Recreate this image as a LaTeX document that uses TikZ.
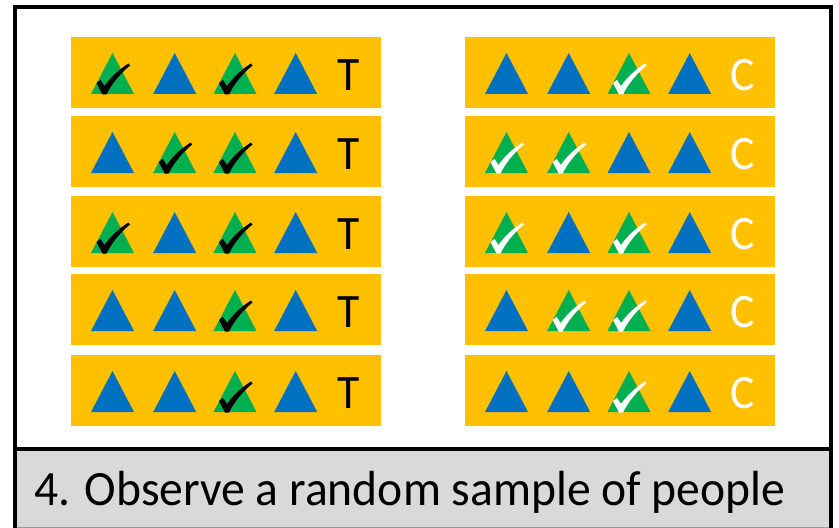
\documentclass[tikz,border=0pt]{standalone}
\usepackage{fontspec}
\usepackage{graphicx}
\setmainfont{Carlito}
\definecolor{rowor}{HTML}{FFC000}
\definecolor{triblue}{HTML}{0070C0}
\definecolor{trigreen}{HTML}{00B050}
\definecolor{capgrey}{HTML}{D9D9D9}
\tikzset{
  rowbox/.style={fill=rowor, draw=none},
  frameline/.style={line width=3pt, black},
  pics/tri/.style={code={\fill[#1] (-21.5,0) -- (21.5,0) -- (0,-41) -- cycle;}},
  pics/chk/.style={code={\fill[#1] (-16,-11) -- (-12,-14) -- (-8,-8)
      .. controls (-1,-18) and (8,-25.5) .. (16,-30.5) -- (17.5,-28.5)
      .. controls (7,-20) and (-1.5,-9) .. (-6,0.5) -- (-10,0.5) -- cycle;}},
  lbl/.style={font=\fontsize{36}{36}\selectfont, anchor=base, inner sep=0pt}
}
\newcommand{\tri}[3]{% x, basey, type (0 blue,1 green black check,2 green white check)
  \ifnum#3=0 \pic at (#1,#2) {tri=triblue};\fi
  \ifnum#3=1 \pic at (#1,#2) {tri=trigreen}; \pic at (#1,#2) {chk=black};\fi
  \ifnum#3=2 \pic at (#1,#2) {tri=trigreen}; \pic at (#1,#2) {chk=white};\fi
}
\newcommand{\myrow}[8]{% left x, top y, t1..t4, letter, colour
  \fill[rowor] (#1,#2) rectangle ++(310,71);
  \tri{#1+41.5}{#2+57}{#3}
  \tri{#1+103.7}{#2+57}{#4}
  \tri{#1+164}{#2+57}{#5}
  \tri{#1+224.7}{#2+57}{#6}
  \node[lbl, text=#8] at (#1+278,#2+53) {\scalebox{0.95}[1]{#7}};
}
\begin{document}
\begin{tikzpicture}[x=0.75pt,y=-0.75pt]
\useasboundingbox (0,0) rectangle (839,528);
\fill[white] (0,0) rectangle (839,528);
% caption bar
\fill[capgrey] (15,449) rectangle (831,530);
\draw[gray!80, line width=0.75pt] (15,527) -- (831,527);
\node[anchor=base west, inner sep=0pt, font=\fontsize{37}{37}\selectfont] (cap) at (34,505) {\scalebox{0.965}[1]{4. Observe a random sample of people}};
% left rows (T)
\myrow{71}{37}{1}{0}{1}{0}{T}{black}
\myrow{71}{116}{0}{1}{1}{0}{T}{black}
\myrow{71}{196}{1}{0}{1}{0}{T}{black}
\myrow{71}{274}{0}{0}{1}{0}{T}{black}
\myrow{71}{355}{0}{0}{1}{0}{T}{black}
% right rows (C)
\myrow{465}{37}{0}{0}{2}{0}{C}{white}
\myrow{465}{116}{2}{2}{0}{0}{C}{white}
\myrow{465}{196}{2}{0}{2}{0}{C}{white}
\myrow{465}{274}{0}{2}{2}{0}{C}{white}
\myrow{465}{355}{0}{0}{2}{0}{C}{white}
% frame
\draw[frameline] (15,7) rectangle (831,449);
\draw[frameline] (15,449) -- (15,530);
\draw[frameline] (831,449) -- (831,530);
\end{tikzpicture}
\end{document}
